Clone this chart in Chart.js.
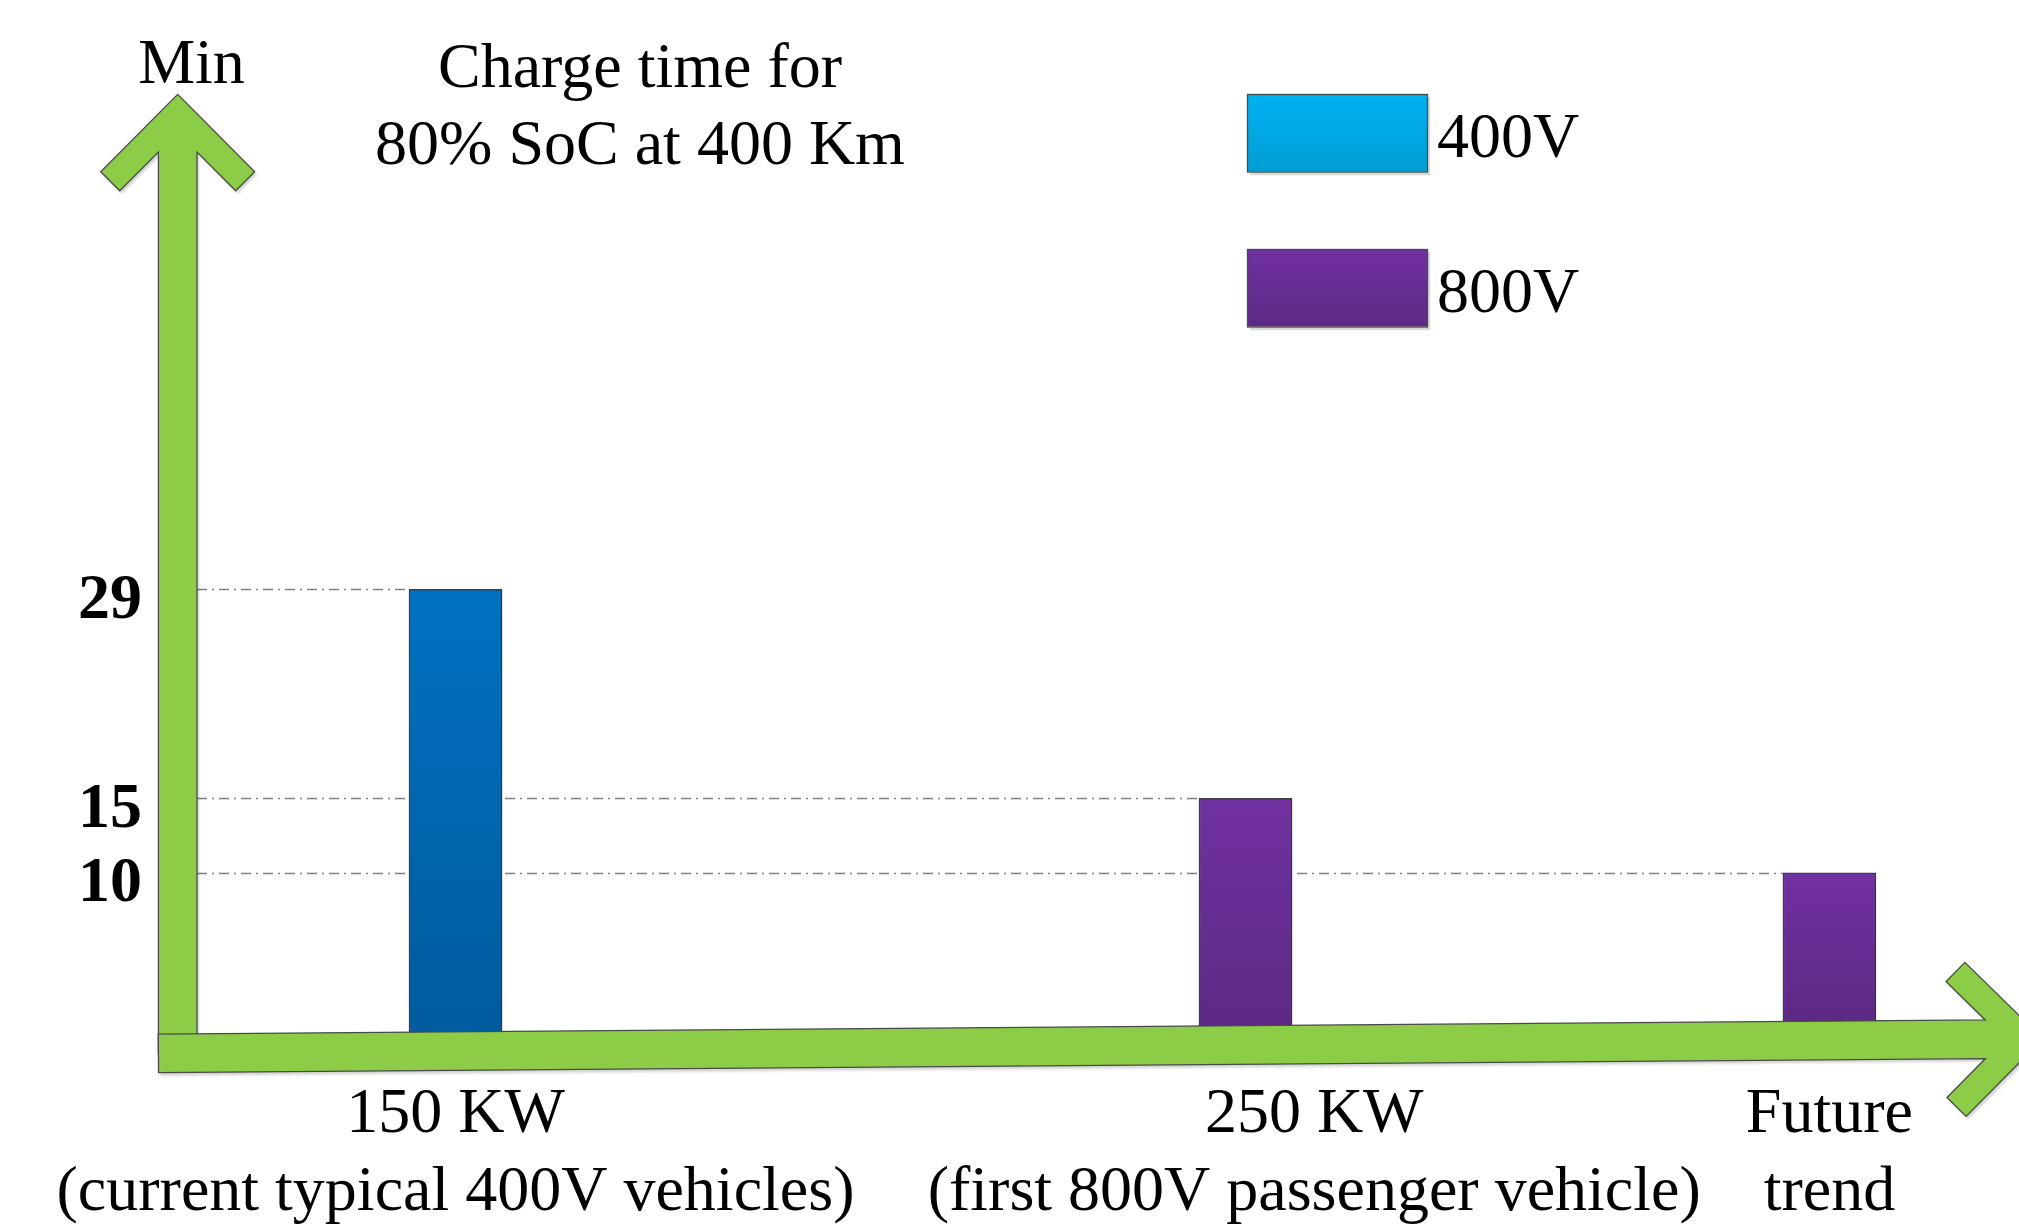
<!DOCTYPE html>
<html>
<head>
<meta charset="utf-8">
<title>Charge time for 80% SoC at 400 Km</title>
<script src="https://cdn.jsdelivr.net/npm/chart.js@4.4.1/dist/chart.umd.min.js"></script>
<style>
  html, body { margin: 0; padding: 0; background: #ffffff; }
  #wrap { width: 2019px; height: 1230px; }
</style>
</head>
<body>
<div id="wrap"><canvas id="chargeChart" width="2019" height="1230"></canvas></div>
<script>
// x axis categories, two lines each
const categories = [
    ['150 KW', '(current typical 400V vehicles)'],
    ['250 KW', '(first 800V passenger vehicle)'],
    ['Future', 'trend']
];
// charge time (min) for 80% SoC at 400 km
const chargeMinutes = [29, 15, 10];
// voltage class of every bar
const barVoltage = ['400V', '800V', '800V'];
const voltageClasses = ['400V', '800V'];
// place of each bar / each label along the x axis
const barSlot = [1, 2.15, 3];
const labelSlot = [1, 2.25, 3];
// values marked on the y axis
const yTicks = [29, 15, 10];

const titleLines = ['Charge time for', '80% SoC at 400 Km'];
const yAxisTitle = 'Min';

const FONT = "'Liberation Serif', 'Times New Roman', serif";
const GREEN = '#8dcc47';
const EDGE = '#4a4a4a';
const barColors = { '400V': ['#0071c2', '#005c9f'], '800V': ['#7131a1', '#5d2985'] };
const legendColors = { '400V': ['#00b2f1', '#009dd4'], '800V': ['#7131a1', '#5d2985'] };

// vertical gradient for one bar, from its top down to zero
function barGradient(c) {
    const stops = barColors[c.dataset.label];
    const y = c.chart.scales.y;
    if (c.type !== 'data' || !y || !c.parsed) return stops[0];
    const top = y.getPixelForValue(c.parsed.y);
    const bottom = y.getPixelForValue(0);
    if (!isFinite(top) || !isFinite(bottom)) return stops[0];
    const g = c.chart.ctx.createLinearGradient(0, top, 0, bottom);
    g.addColorStop(0, stops[0]);
    g.addColorStop(1, stops[1]);
    return g;
}

// thick green arrow with a chevron head, drawn along its own axis
function drawArrow(ctx, x0, y0, len, angle, half) {
    ctx.save();
    ctx.translate(x0, y0);
    ctx.rotate(angle);
    ctx.beginPath();
    ctx.moveTo(0, -half);
    ctx.lineTo(len - 57.7, -half);
    ctx.lineTo(len - 96.5, -58);
    ctx.lineTo(len - 77.5, -77);
    ctx.lineTo(len, 0);
    ctx.lineTo(len - 77.5, 77);
    ctx.lineTo(len - 96.5, 58);
    ctx.lineTo(len - 57.7, half);
    ctx.lineTo(0, half);
    ctx.closePath();
    ctx.shadowColor = 'rgba(0,0,0,0.18)';
    ctx.shadowBlur = 3;
    ctx.shadowOffsetX = 2;
    ctx.shadowOffsetY = 3;
    ctx.fillStyle = GREEN;
    ctx.fill();
    ctx.shadowColor = 'transparent';
    ctx.strokeStyle = EDGE;
    ctx.lineWidth = 1.3;
    ctx.stroke();
    ctx.restore();
}

const decorPlugin = {
    id: 'decor',
    beforeDatasetsDraw(chart) {
        const ctx = chart.ctx;
        const yScale = chart.scales.y;
        const left = chart.chartArea.left;

        // dash-dot guide lines, each ending at the bar that carries the value
        ctx.save();
        ctx.strokeStyle = '#7f7f7f';
        ctx.lineWidth = 1.5;
        ctx.setLineDash([10, 5, 2, 5]);
        yTicks.forEach(v => {
            let end = chart.chartArea.right;
            chart.data.datasets.forEach((ds, d) => {
                chart.getDatasetMeta(d).data.forEach((el, k) => {
                    if (ds.data[k].y === v) end = el.x - el.width / 2;
                });
            });
            const y = Math.round(yScale.getPixelForValue(v)) + 0.5;
            ctx.beginPath();
            ctx.moveTo(left, y);
            ctx.lineTo(end, y);
            ctx.stroke();
        });
        ctx.restore();

        // soft shadow for the bars
        ctx.save();
        ctx.shadowColor = 'rgba(0,0,0,0.16)';
        ctx.shadowBlur = 2;
        ctx.shadowOffsetX = 4;
        ctx.shadowOffsetY = 2;
    },
    afterDatasetsDraw(chart) {
        const ctx = chart.ctx;
        ctx.restore();

        const area = chart.chartArea;
        const half = 19.3;
        // y axis arrow
        const shaftX = area.left - half;
        const xAxisY = 1053.4;
        drawArrow(ctx, shaftX, xAxisY, xAxisY - 94.3, -Math.PI / 2, half);
        // x axis arrow, slightly tilted like the original
        const x0 = area.left - 2 * half;
        const tipX = 2043, tipY = 1038.8;
        const len = Math.hypot(tipX - x0, tipY - xAxisY);
        drawArrow(ctx, x0, xAxisY, len, Math.atan2(tipY - xAxisY, tipX - x0), half);
    },
    afterDraw(chart) {
        const ctx = chart.ctx;
        ctx.save();
        ctx.fillStyle = '#000000';
        ctx.font = '64px ' + FONT;
        ctx.textAlign = 'center';
        ctx.textBaseline = 'alphabetic';
        ctx.fillText(yAxisTitle, 191.5, 83);
        titleLines.forEach((line, i) => ctx.fillText(line, 640, 86.5 + i * 77.5));

        // legend boxes
        ctx.textAlign = 'left';
        voltageClasses.forEach((v, i) => {
            const bx = 1247, by = 94 + i * 155, bw = 180, bh = 77.5;
            const g = ctx.createLinearGradient(0, by, 0, by + bh);
            g.addColorStop(0, legendColors[v][0]);
            g.addColorStop(1, legendColors[v][1]);
            ctx.save();
            ctx.shadowColor = 'rgba(0,0,0,0.15)';
            ctx.shadowBlur = 1;
            ctx.shadowOffsetX = 3;
            ctx.shadowOffsetY = 3;
            ctx.fillStyle = g;
            ctx.fillRect(bx, by, bw, bh);
            ctx.restore();
            ctx.strokeStyle = EDGE;
            ctx.lineWidth = 1.3;
            ctx.strokeRect(bx + 0.5, by + 0.5, bw, bh);
            ctx.fillStyle = '#000000';
            ctx.fillText(v, 1437, by + 63);
        });
        ctx.restore();
    }
};

const datasets = voltageClasses.map(v => ({
    label: v,
    data: chargeMinutes
        .map((m, i) => (barVoltage[i] === v ? { x: barSlot[i], y: m } : null))
        .filter(p => p !== null),
    backgroundColor: barGradient,
    borderColor: '#3d3d45',
    borderWidth: 1.5,
    barThickness: 93,
    grouped: false,
    base: -1
}));

const chart = new Chart(document.getElementById('chargeChart'), {
    type: 'bar',
    data: { datasets: datasets },
    options: {
        responsive: false,
        animation: false,
        layout: { padding: { top: 425, left: 0, right: 0, bottom: 0 } },
        plugins: {
            legend: { display: false },
            tooltip: { enabled: false },
            title: { display: false }
        },
        scales: {
            x: {
                type: 'linear',
                offset: false,
                min: 0.6237,
                max: 3.276,
                grid: { display: false, drawTicks: false, offset: false },
                border: { display: false },
                afterBuildTicks: scale => { scale.ticks = labelSlot.map(v => ({ value: v })); },
                afterFit: scale => {
                    // the long labels must not squeeze the plot area
                    scale.height = 163;
                    scale.paddingLeft = 0;
                    scale.paddingRight = 0;
                },
                ticks: {
                    autoSkip: false,
                    maxRotation: 0,
                    minRotation: 0,
                    padding: 9,
                    color: '#000000',
                    font: { family: FONT, size: 64, lineHeight: 1.22 },
                    callback: (value, index) => categories[index]
                }
            },
            y: {
                min: -3,
                max: 40,
                grid: { display: false, drawTicks: false },
                border: { display: false },
                afterBuildTicks: scale => { scale.ticks = yTicks.map(v => ({ value: v })); },
                afterFit: scale => {
                    scale.width = 197;
                    scale.paddingTop = 0;
                    scale.paddingBottom = 0;
                },
                ticks: {
                    padding: 55,
                    labelOffset: 12,
                    color: '#000000',
                    font: { family: FONT, size: 64, weight: 'bold' }
                }
            }
        }
    },
    plugins: [decorPlugin]
});
</script>
</body>
</html>
